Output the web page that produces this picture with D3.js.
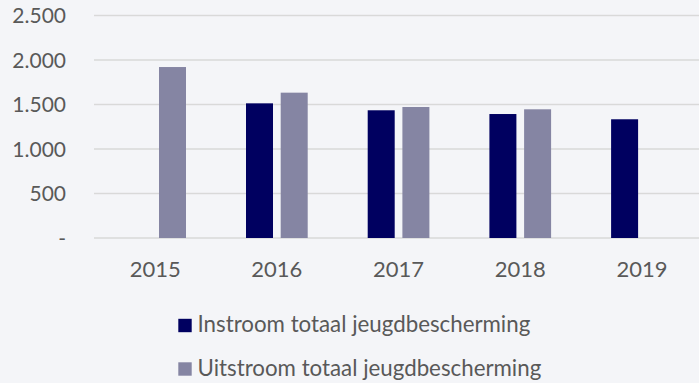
<!DOCTYPE html>
<html>
<head>
<meta charset="utf-8">
<script src="https://cdn.jsdelivr.net/npm/d3@7"></script>
<style>
  html, body { margin: 0; padding: 0; background: #f4f5f8; }
  svg { display: block; }
  text { font-family: "Source Sans Pro", Lato, "Noto Sans", sans-serif; fill: #595959; }
</style>
</head>
<body>
<svg id="chart" width="699" height="383"></svg>
<script>
// Jeugdbescherming: instroom en uitstroom per jaar
const years = ["2015", "2016", "2017", "2018", "2019"];
const instroom = [null, 1513, 1435, 1393, 1334];
const uitstroom = [1921, 1633, 1472, 1446, null];
const yTicks = [0, 500, 1000, 1500, 2000, 2500];
const seriesNames = ["Instroom totaal jeugdbescherming", "Uitstroom totaal jeugdbescherming"];
const seriesColors = ["#000060", "#8585a3"];

const W = 699, H = 383;
const margin = { left: 94.3, right: -3.8 };
const svg = d3.select("#chart");

const x = d3.scaleBand().domain(years)
  .range([margin.left, W - margin.right]).paddingInner(0).paddingOuter(0);
const y = d3.scaleLinear().domain([0, 2500]).range([238, 15.5]);

const barW = 27, barGap = 7.7;
const fmt = v => v === 0 ? "-" : d3.format(",")(v).replace(/,/g, ".");

// gridlines
svg.append("g").selectAll("line").data(yTicks).join("line")
  .attr("x1", 94).attr("x2", W)
  .attr("y1", d => y(d)).attr("y2", d => y(d))
  .attr("stroke", "#d9d9d9").attr("stroke-width", 1.5);

// y-axis labels
const yAxis = d3.axisLeft(y).tickValues(yTicks).tickFormat(fmt).tickSize(0).tickPadding(0);
const gy = svg.append("g").attr("transform", "translate(66,0)").call(yAxis);
gy.select(".domain").remove();
gy.selectAll("text").attr("font-size", 21).attr("dy", "0.35em")
  .attr("font-family", null).attr("fill", "#595959");

// x-axis labels
const xAxis = d3.axisBottom(x).tickSize(0).tickPadding(0);
const gx = svg.append("g").attr("transform", "translate(0,277)").call(xAxis);
gx.select(".domain").remove();
gx.selectAll("text").attr("font-size", 22).attr("y", 0).attr("dy", 0)
  .attr("font-family", null).attr("fill", "#595959");

// bars
const series = [instroom, uitstroom];
series.forEach((vals, si) => {
  const data = years.map((yr, i) => ({ yr, v: vals[i] })).filter(d => d.v != null);
  svg.append("g").selectAll("rect").data(data).join("rect")
    .attr("x", d => x(d.yr) + x.bandwidth() / 2 - barW - barGap / 2 + si * (barW + barGap))
    .attr("width", barW)
    .attr("y", d => y(d.v))
    .attr("height", d => y(0) - y(d.v))
    .attr("fill", seriesColors[si]);
});

// legend
const legend = svg.append("g");
seriesNames.forEach((name, i) => {
  const cy = 325.5 + i * 43.5;
  legend.append("rect").attr("x", 178.3).attr("y", cy - 6.7)
    .attr("width", 13.4).attr("height", 13.4).attr("fill", seriesColors[i]);
  legend.append("text").attr("x", 197.5).attr("y", cy + 6.5)
    .attr("font-size", 22.3).text(name);
});
</script>
</body>
</html>
